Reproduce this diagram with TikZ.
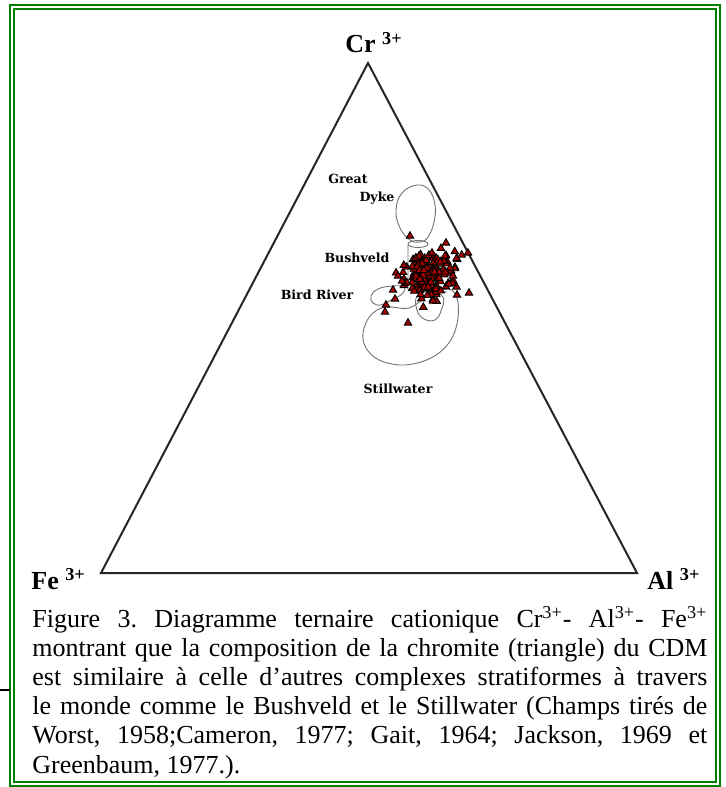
\documentclass[tikz,border=0pt]{standalone}
\usepackage{fontspec}
\setmainfont{Liberation Serif}
\newfontfamily\fieldfont{DejaVu Serif}
\usetikzlibrary{shapes.geometric}

\begin{document}
\begin{tikzpicture}[x=0.5pt,y=-0.5pt,
  frame/.style={draw=green!50!black, line width=1pt},
  vlabel/.style={font=\fontsize{13}{15}\selectfont\bfseries, inner sep=0},
  field/.style={draw=black!55, line width=0.45pt},
  fieldname/.style={font=\fieldfont\fontsize{6.3}{7}\selectfont\bfseries, inner sep=0},
  chromite/.style={regular polygon, regular polygon sides=3, minimum size=4.3pt, inner sep=0,
    draw=black, line width=0.45pt, fill=red!65!black}]
%\draw[help lines] (0,0) grid (725,787);
\fill[white] (0,0) rectangle (725,787);
\useasboundingbox (0,0) rectangle (725,787);
\draw[frame] (10,5) rectangle (720,786);
\draw[frame] (14,9) rectangle (716,782);
\draw[line width=0.6pt] (0,690) -- (10,690);

\coordinate (cr) at (368,63);
\coordinate (fe) at (101,573);
\coordinate (al) at (637,573);
\draw[line width=1pt, black!85] (cr) -- (al) -- (fe) -- cycle;

\node (crlab) [vlabel, anchor=base] at (374,53) {Cr \textsuperscript{3+}};
\node (felab) [vlabel, anchor=base west] at (31,589) {Fe \textsuperscript{3+}};
\node (allab) [vlabel, anchor=base west] at (647,589) {Al \textsuperscript{3+}};

% fields
\draw[field] plot[smooth cycle, tension=0.7] coordinates {(417,185) (429,190) (435,205) (434,222) (428,237) (420,242) (410,240) (400,228) (396,210) (402,193)};
\draw[field] (418,244) ellipse [x radius=10, y radius=3.5];
\draw[field] (408,245) -- (408,290) -- (447,292);
\draw[field] plot[smooth cycle, tension=0.7] coordinates {(371,296) (378,289) (392,286) (404,287) (402,294) (391,300) (381,305) (373,303)};
\draw[field] plot[smooth cycle, tension=0.6] coordinates {(385,307) (370,316) (363,333) (366,348) (379,360) (400,365) (421,362) (439,353) (452,338) (458,318) (457,298) (448,289) (428,296) (409,308)};
\draw[field] plot[smooth cycle, tension=0.7] coordinates {(417,296) (417,310) (424,319) (435,320) (441,311) (443,297) (430,291)};

% chromite analyses
\pgfmathsetseed{11}
\foreach \i in {1,...,140}{
  \pgfmathsetmacro{\mx}{431+22*(rnd+rnd+rnd+rnd-2)}
  \pgfmathsetmacro{\my}{277+21*(rnd+rnd+rnd+rnd-2)}
  \node (m\i) [chromite] at (\mx,\my) {};
}
\foreach \px/\py [count=\j] in {446/243, 419/256, 432/253, 445/256, 469/293, 457/295, 433/301,
    408/323, 395/299, 386/305, 385/312, 393/290, 410/236, 440/262, 450/268, 398/276, 402/281,
    453/276, 449/284}{
  \node (o\j) [chromite] at (\px,\py) {};
}

\node (great) [fieldname] at (348,179) {Great};
\node (dyke) [fieldname] at (377,198) {Dyke};
\node (bush) [fieldname] at (357,258) {Bushveld};
\node (bird) [fieldname] at (317,295) {Bird River};
\node (still) [fieldname] at (398,389) {Stillwater};

\node (cap) [anchor=north west, inner sep=0, text width=337.5pt, align=justify,
  font=\fontsize{13}{14.6}\selectfont\frenchspacing] at (32,606) {\hyphenpenalty=10000\relax
Figure 3. Diagramme ternaire cationique Cr\textsuperscript{3+}- Al\textsuperscript{3+}- Fe\textsuperscript{3+}\linebreak
montrant que la composition de la chromite (triangle) du CDM\linebreak
est similaire à celle d’autres complexes stratiformes à travers\linebreak
le monde comme le Bushveld et le Stillwater (Champs tirés de\linebreak
Worst, 1958;Cameron, 1977; Gait, 1964; Jackson, 1969 et\linebreak
Greenbaum, 1977.).};
\end{tikzpicture}
\end{document}
